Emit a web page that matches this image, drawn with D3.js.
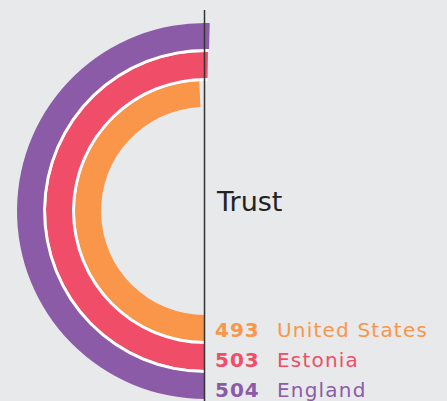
<!DOCTYPE html>
<html><head><meta charset="utf-8">
<script src="https://cdn.jsdelivr.net/npm/d3@7/dist/d3.min.js"></script>
<style>html,body{margin:0;padding:0;background:#e8e9eb;}svg{display:block;}</style>
</head><body>
<script>
const countries = ["United States", "Estonia", "England"];
const values = [493, 503, 504];
const colors = ["#f9964a", "#f04e68", "#8c5ba8"];
const title = "Trust";

const W = 447, H = 401;
const cx = 205, cy = 211;
const svg = d3.select("body").append("svg").attr("width", W).attr("height", H);
svg.append("rect").attr("width", W).attr("height", H).attr("fill", "#e8e9eb");

// angle scale: 0..500 maps to half turn
const angle = d3.scaleLinear().domain([0, 500]).range([0, Math.PI]);
const radius = d3.scaleBand().domain(countries).range([104, 188]).paddingInner(0.1);
const labelY = d3.scalePoint().domain(countries).range([336.5, 396.5]);

const g = svg.append("g").attr("transform", `translate(${cx},${cy})`);
const arc = d3.arc();

countries.forEach((c, i) => {
  const r0 = radius(c), r1 = r0 + radius.bandwidth();
  const a1 = Math.PI, a2 = Math.PI + angle(values[i]);
  if (i > 0) {
    g.append("path").attr("fill", "#ffffff")
      .attr("d", arc({innerRadius: r0 - radius.step() + radius.bandwidth(), outerRadius: r0, startAngle: a1, endAngle: a2}));
  }
  g.append("path").attr("fill", colors[i])
    .attr("d", arc({innerRadius: r0, outerRadius: r1, startAngle: a1, endAngle: a2}));
});

svg.append("line").attr("x1", cx - 0.5).attr("x2", cx - 0.5).attr("y1", 10).attr("y2", H)
  .attr("stroke", "#333").attr("stroke-width", 1.5);

const font = "'DejaVu Sans', sans-serif";
svg.append("text").attr("x", 217).attr("y", 211).text(title)
  .attr("font-family", font).attr("font-size", 27).attr("fill", "#222");

countries.forEach((c, i) => {
  const ym = labelY(c);
  svg.append("text").attr("x", 215).attr("y", ym).text(values[i])
    .attr("font-family", font).attr("font-size", 20).attr("font-weight", 700)
    .attr("letter-spacing", 1).attr("fill", colors[i]);
  svg.append("text").attr("x", 277).attr("y", ym).text(c)
    .attr("font-family", font).attr("font-size", 20).attr("letter-spacing", 1.2).attr("fill", colors[i]);
});
</script>
</body></html>
